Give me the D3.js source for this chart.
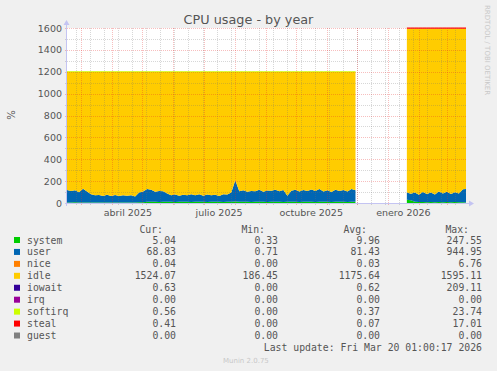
<!DOCTYPE html>
<html>
<head>
<meta charset="utf-8">
<script src="https://cdn.jsdelivr.net/npm/d3@7"></script>
<style>
	body { margin: 0; background: #f0f0f0; }
	svg { display: block; font-family: "DejaVu Sans", sans-serif; }
	.mono { font-family: "DejaVu Sans Mono", monospace; }
</style>
</head>
<body>
<div id="chart"></div>
<script>
// ---- values ----
const yTicks = [0, 200, 400, 600, 800, 1000, 1200, 1400, 1600];
const monthLabels = ["abril 2025", "julio 2025", "octubre 2025", "enero 2026"];
const monthLabelDates = ["2025-04-16 12:00", "2025-07-16 12:00", "2025-10-16 12:00", "2026-01-16 12:00"];

// first block of samples, one every 4 days
const seg1Start = "2025-02-14 17:00";
const seg1System = [5,5,6,4,5,5,4,5,4,5, 4,5,4,5,4,5,4,5,6,6, 12,11,12,10,12,11,12,10,12,11,
	12,10,12,11,12,10,12,11,12,10, 12,11,14,12,11,12,10,12,11,12, 10,12,11,12,10,12,11,12,10,12,
	11,12,10,12,11,12,10,12,11,12, 10,12,11];
const seg1User = [115,105,110,95,125,100,75,65,70,60, 72,60,70,58,68,62,68,55,90,100, 115,110,90,100,95,75,60,68,55,65,
	58,70,60,68,55,68,58,64,52,70, 65,85,195,95,105,90,100,95,110,90, 105,100,110,95,108,55,100,110,95,108,
	98,112,100,115,95,105,90,110,98,108, 95,115,105];
const seg1Idle = [1079,1089,1083,1100,1069,1094,1120,1129,1125,1134, 1123,1134,1125,1136,1127,1132,1127,1139,1103,1093,
	1072,1078,1097,1089,1092,1113,1127,1121,1132,1123, 1129,1119,1127,1120,1132,1121,1129,1124,1135,1119,
	1122,1103,990,1092,1083,1097,1089,1092,1078,1097, 1084,1087,1078,1092,1081,1132,1088,1077,1094,1079,
	1090,1075,1089,1072,1093,1082,1099,1077,1090,1079, 1094,1072,1083];
const seg1Softirq = [0.5,0.5,0.5,0.5,0.5,0.5,0.5,0.5,0.5,0.5, 0.5,0.5,0.5,0.5,0.5,0.5,0.5,0.5,0.5,0.5,
	0.5,0.5,0.5,0.5,0.5,0.5,0.5,0.5,0.5,0.5, 0.5,0.5,0.5,0.5,0.5,0.5,0.5,0.5,0.5,0.5,
	0.5,0.5,0.5,0.5,0.5,0.5,0.5,0.5,0.5,0.5, 0.5,0.5,0.5,0.5,0.5,0.5,0.5,0.5,0.5,0.5,
	0.5,0.5,0.5,0.5,0.5,0.5,0.5,0.5,0.5,0.5, 0.5,0.5,0.5];
const seg1Steal = [0,0,0,0,0,0,0,0,0,0, 0,0,0,0,0,0,0,0,0,0, 0,0,0,0,0,0,0,0,0,0,
	0,0,0,0,0,0,0,0,0,0, 0,0,0,0,0,0,0,0,0,0, 0,0,0,0,0,0,0,0,0,0,
	0,0,0,0,0,0,0,0,0,0, 0,0,0];

// second block after the gap
const seg2Start = "2026-01-20 00:00";
const seg2System = [30,25,12,10,10,8,10,8,10,8,10,8,10,8,6,5];
const seg2User = [65,60,85,65,90,75,85,70,95,80,92,75,88,80,120,125];
const seg2Idle = [1499,1509,1497,1519,1494,1511,1499,1516,1489,1506,1492,1511,1496,1506,1468,1464];
const seg2Softirq = [1,1,1,1,1,1,1,1,1,1,1,1,1,1,1,1];
const seg2Steal = [5,5,5,5,5,5,5,5,5,5,5,5,5,5,5,5];

// legend
const legendNames = ["system", "user", "nice", "idle", "iowait", "irq", "softirq", "steal", "guest"];
const legendColors = ["#00cc00", "#0066b3", "#ff8000", "#ffcc00", "#330099", "#990099", "#ccff00", "#ff0000", "#808080"];
const curVals = ["5.04", "68.83", "0.04", "1524.07", "0.63", "0.00", "0.56", "0.41", "0.00"];
const minVals = ["0.33", "0.71", "0.00", "186.45", "0.00", "0.00", "0.00", "0.00", "0.00"];
const avgVals = ["9.96", "81.43", "0.03", "1175.64", "0.62", "0.00", "0.37", "0.07", "0.00"];
const maxVals = ["247.55", "944.95", "6.76", "1595.11", "209.11", "0.00", "23.74", "17.01", "0.00"];

// ---- drawing ----
const W = 497, H = 371;
const plot = { left: 67, right: 466, top: 28, bottom: 203 };
const parse = d3.timeParse("%Y-%m-%d %H:%M");
const colorOf = k => legendColors[legendNames.indexOf(k)];
const stackKeys = ["system", "user", "idle", "softirq", "steal"];

const svg = d3.select("#chart").append("svg").attr("width", W).attr("height", H);

const x = d3.scaleTime()
	.domain([parse("2025-02-14 17:00"), parse("2026-03-20 01:00")])
	.range([plot.left, plot.right]);
const y = d3.scaleLinear().domain([0, 1600]).range([plot.bottom, plot.top]);

function buildRows(start, sys, usr, idle, soft, steal) {
	const t0 = parse(start);
	return sys.map((v, i) => ({
		date: d3.timeDay.offset(t0, i * 4),
		system: v, user: usr[i], idle: idle[i], softirq: soft[i], steal: steal[i]
	}));
}

const segments = [
	{ rows: buildRows(seg1Start, seg1System, seg1User, seg1Idle, seg1Softirq, seg1Steal), topKey: "softirq" },
	{ rows: buildRows(seg2Start, seg2System, seg2User, seg2Idle, seg2Softirq, seg2Steal), topKey: "steal" }
];

svg.append("defs").append("clipPath").attr("id", "plot-clip")
	.append("rect").attr("x", plot.left).attr("y", plot.top - 2)
	.attr("width", plot.right - plot.left).attr("height", plot.bottom - plot.top + 2);

svg.append("rect")
	.attr("x", plot.left).attr("y", plot.top)
	.attr("width", plot.right - plot.left).attr("height", plot.bottom - plot.top)
	.attr("fill", "#ffffff");

const marks = svg.append("g").attr("clip-path", "url(#plot-clip)");
const stack = d3.stack().keys(stackKeys);
const area = d3.area().x(d => x(d.data.date)).y0(d => y(d[0])).y1(d => y(d[1]));
const topLine = d3.line().x(d => x(d.data.date)).y(d => y(d[1]));

segments.forEach(seg => {
	const layers = stack(seg.rows);
	marks.selectAll(null).data(layers).join("path")
		.attr("d", area)
		.attr("fill", d => colorOf(d.key));
	const top = layers.find(l => l.key === seg.topKey);
	marks.append("path").attr("d", topLine(top))
		.attr("fill", "none").attr("stroke", colorOf(seg.topKey)).attr("stroke-width", 1);
});

// grid on top of the areas, like rrdtool
const grid = svg.append("g");
const minorDays = [];
for (let d = parse("2025-02-24 00:00"); d < x.domain()[1]; d = d3.timeDay.offset(d, 14)) minorDays.push(d);
const months = d3.timeMonth.range(x.domain()[0], x.domain()[1]);
const minorColor = "rgba(110,110,110,0.28)";
const majorColor = "rgba(230,40,40,0.3)";

grid.selectAll(".vminor").data(minorDays).join("line")
	.attr("x1", d => Math.round(x(d)) + 0.5).attr("x2", d => Math.round(x(d)) + 0.5)
	.attr("y1", plot.top).attr("y2", plot.bottom + 3)
	.attr("stroke", minorColor).attr("stroke-dasharray", "1,1");
grid.selectAll(".hminor").data(d3.range(100, 1600, 200)).join("line")
	.attr("x1", plot.left - 2).attr("x2", plot.right + 1)
	.attr("y1", d => Math.round(y(d)) + 0.5).attr("y2", d => Math.round(y(d)) + 0.5)
	.attr("stroke", minorColor).attr("stroke-dasharray", "1,1");
grid.selectAll(".vmajor").data(months).join("line")
	.attr("x1", d => Math.round(x(d)) + 0.5).attr("x2", d => Math.round(x(d)) + 0.5)
	.attr("y1", plot.top).attr("y2", plot.bottom + 3)
	.attr("stroke", majorColor).attr("stroke-dasharray", "1,1");
grid.selectAll(".hmajor").data(yTicks.slice(1)).join("line")
	.attr("x1", plot.left - 2).attr("x2", plot.right + 1)
	.attr("y1", d => Math.round(y(d)) + 0.5).attr("y2", d => Math.round(y(d)) + 0.5)
	.attr("stroke", majorColor).attr("stroke-dasharray", "1,1");

// axes with arrows
const axisColor = "#c4c4f2";
svg.append("line").attr("x1", plot.left - 2).attr("x2", plot.right + 4)
	.attr("y1", plot.bottom + 0.5).attr("y2", plot.bottom + 0.5).attr("stroke", axisColor);
svg.append("path").attr("d", `M${plot.right + 3},${plot.bottom - 2.5} L${plot.right + 8},${plot.bottom + 0.5} L${plot.right + 3},${plot.bottom + 3.5} Z`)
	.attr("fill", axisColor);
svg.append("line").attr("x1", plot.left - 0.5).attr("x2", plot.left - 0.5)
	.attr("y1", plot.bottom + 3).attr("y2", plot.top - 4).attr("stroke", axisColor);
svg.append("path").attr("d", `M${plot.left - 3.5},${plot.top - 3} L${plot.left - 0.5},${plot.top - 8} L${plot.left + 2.5},${plot.top - 3} Z`)
	.attr("fill", axisColor);

// tick labels
svg.append("g").selectAll("text").data(yTicks).join("text")
	.attr("x", 62).attr("y", d => y(d) + 3.5)
	.attr("text-anchor", "end").attr("font-size", "9.5px").attr("fill", "#555")
	.text(d => d);

svg.append("g").selectAll("text").data(monthLabels).join("text")
	.attr("x", (d, i) => x(parse(monthLabelDates[i]))).attr("y", 216)
	.attr("text-anchor", "middle").attr("font-size", "9.5px").attr("fill", "#555")
	.text(d => d);

// titles
svg.append("text").attr("x", 248.5).attr("y", 23.5).attr("text-anchor", "middle")
	.attr("font-size", "12.8px").attr("fill", "#555").text("CPU usage - by year");
svg.append("text").attr("transform", "translate(14.5,115) rotate(-90)").attr("text-anchor", "middle")
	.attr("font-size", "10px").attr("fill", "#555").text("%");
svg.append("text").attr("transform", "translate(485,5) rotate(90)")
	.attr("font-size", "7px").attr("fill", "#c8c8c8").text("RRDTOOL / TOBI OETIKER");

// legend
const legend = svg.append("g").attr("class", "mono").attr("font-size", "9.8px").attr("fill", "#555");
const rowY = i => 240 + i * 11.94;
const headers = [["Cur:", 163], ["Min:", 265], ["Avg:", 367], ["Max:", 469]];
legend.selectAll(".hdr").data(headers).join("text")
	.attr("x", d => d[1]).attr("y", 232.5).attr("text-anchor", "end").text(d => d[0]);

const rows = legend.selectAll(".row").data(legendNames).join("g")
	.attr("transform", (d, i) => `translate(0,${rowY(i)})`);
rows.append("rect").attr("x", 14).attr("y", -3).attr("width", 6).attr("height", 6)
	.attr("fill", (d, i) => legendColors[i]);
rows.append("text").attr("x", 27).attr("y", 3.5).text(d => d);
const cols = [[curVals, 176], [minVals, 278], [avgVals, 380], [maxVals, 482]];
cols.forEach(([vals, right]) => {
	rows.append("text").attr("x", right).attr("y", 3.5).attr("text-anchor", "end")
		.text((d, i) => vals[i]);
});

legend.append("text").attr("x", 482).attr("y", 351).attr("text-anchor", "end")
	.text("Last update: Fri Mar 20 01:00:17 2026");

svg.append("text").attr("x", 223).attr("y", 362.5).attr("font-size", "7px").attr("fill", "#c8c8c8")
	.text("Munin 2.0.75");
</script>
</body>
</html>
